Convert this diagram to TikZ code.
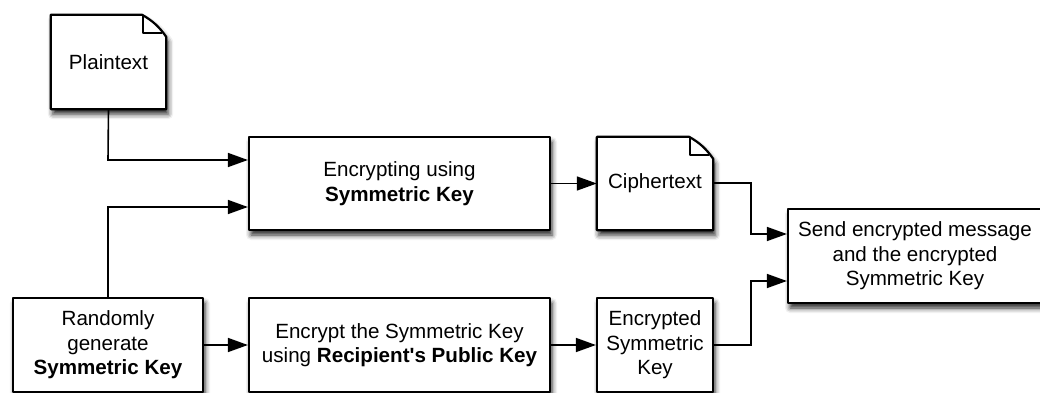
\documentclass[tikz,border=0pt]{standalone}
\usepackage{fontspec}
\setmainfont{Liberation Sans}
\usetikzlibrary{arrows.meta,shadows.blur}

\tikzset{
  boxshadow/.style={blur shadow={shadow xshift=2pt, shadow yshift=-5pt,
      shadow blur radius=5pt, shadow opacity=85}},
  procbox/.style={draw, line width=2.2pt, fill=white, boxshadow,
      align=center, inner sep=0pt, line join=round},
  notetext/.style={align=center, inner sep=0pt},
  noteline/.style={draw, line width=2.2pt, line join=round, fill=white},
  link/.style={line width=1.6pt, -{Triangle[length=20pt,width=14pt,fill=black]}},
}
\newcommand{\txt}{\fontsize{20.6}{24.5}\selectfont}

\begin{document}
\begin{tikzpicture}[x=1pt, y=-1pt, font=\txt]
\useasboundingbox (0,0) rectangle (1040,393);

% documents with a folded corner: frame first, text on top
\node[notetext, minimum width=115pt, minimum height=94pt] (plain) at (108.5,62) {};
\node[notetext, minimum width=116pt, minimum height=93pt] (cipher) at (655,183.5) {};
\foreach \d in {plain, cipher} {
  \path[noteline, boxshadow]
    (\d.north west) -- ([xshift=-24pt]\d.north east)
    to[bend left=12] ([yshift=-22pt]\d.north east) -- (\d.south east)
    -- (\d.south west) -- cycle;
  \draw[line width=2.2pt, line join=round]
    ([xshift=-23pt]\d.north east) -- ([xshift=-23pt,yshift=-18pt]\d.north east)
    -- ([xshift=-4pt,yshift=-18pt]\d.north east);
}
\path (plain) node[notetext] {Plaintext};
\path (cipher) node[notetext] {Ciphertext};

% process boxes
\node[procbox, minimum width=301pt, minimum height=93pt] (enc) at (399.5,183.5)
  {Encrypting using\\\textbf{Symmetric Key}};
\node[procbox, minimum width=190pt, minimum height=94pt] (rand) at (108,345)
  {Randomly\\generate\\\textbf{Symmetric Key}};
\node[procbox, minimum width=301pt, minimum height=94pt] (enckey) at (399.5,345)
  {Encrypt the Symmetric Key\\using \textbf{Recipient\textquotesingle s Public Key}};
\node[procbox, minimum width=116pt, minimum height=94pt] (encsym) at (655,345)
  {Encrypted\\Symmetric\\Key};
\node[procbox, minimum width=254pt, minimum height=94pt] (send) at (915,256)
  {Send encrypted message\\and the encrypted\\Symmetric Key};

% junction points of the elbow connectors
\coordinate (pbend) at (108,160);
\coordinate (rbend) at (108,207);
\coordinate (cbend) at (751,183);
\coordinate (sbend) at (751,345);

\draw[link] (plain.south) -- (pbend) -- (enc.west |- pbend);
\draw[link] (rand.north) -- (rbend) -- (enc.west |- rbend);
\draw[link] (rand.east) -- (enckey.west);
\draw[link] (enc.east) -- (cipher.west |- enc.east);
\draw[link] (enckey.east) -- (encsym.west);
\draw[link] (cipher.east |- cbend) -- (cbend) -- (cbend |- 0,234) -- (send.west |- 0,234);
\draw[link] (encsym.east |- sbend) -- (sbend) -- (sbend |- 0,281) -- (send.west |- 0,281);
\end{tikzpicture}
\end{document}
